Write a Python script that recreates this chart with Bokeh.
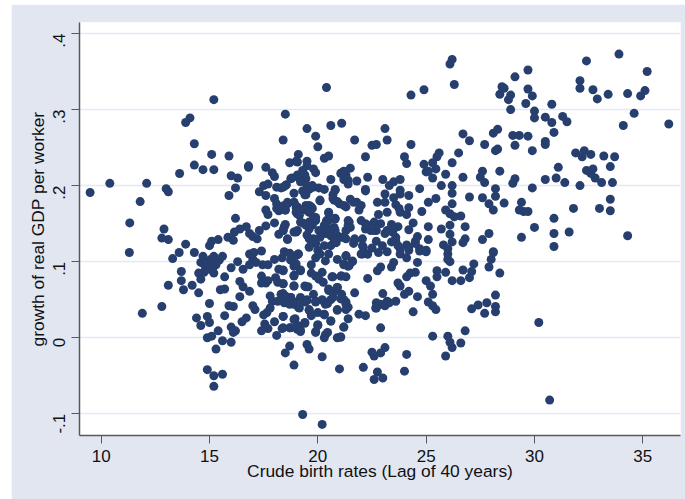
from math import pi
from bokeh.plotting import figure
from bokeh.models import FixedTicker, Range1d, ColumnDataSource
from bokeh.embed import file_html
from bokeh.resources import INLINE

x_upper_left = [9.49,10.4,11.32,11.8,12.1,13.0,13.1,13.62,13.9,14.1,
 14.3,14.3,14.7,15.2,15.1,15.2,15.9,16.0,16.3,16.2,
 15.9,16.8,16.8,17.6,17.9,18.0,18.5,18.4,19.5,19.9,
 20.0,20.4,20.6,21.1,20.3,20.5,19.1,19.0,18.7,19.5,
 19.5,19.8,19.9,18.8,19.1,19.3,19.45,19.3,20.6,21.1,
 21.2,17.5,17.7,17.3,17.6,18.1,18.3,18.55,18.9,19.3,
 19.4,19.6,19.8,20.05,20.3,20.1,20.8,20.7,20.75,21.0]
y_upper_left = [.191,.203,.151,.179,.203,.196,.192,.216,.283,.289,
 .255,.227,.221,.313,.241,.221,.239,.213,.210,.197,
 .187,.224,.226,.224,.217,.212,.294,.260,.275,.265,
 .251,.329,.279,.282,.236,.239,.241,.232,.230,.232,
 .226,.222,.217,.210,.211,.216,.209,.209,.208,.217,
 .208,.200,.202,.192,.187,.198,.197,.201,.190,.193,
 .188,.195,.198,.197,.195,.180,.194,.188,.181,.176]

x_mid_left = [18.0,18.1,18.1,18.2,18.6,18.5,18.9,19.0,19.05,19.45,
 19.6,19.75,17.6,17.7,16.2,20.5,20.8,18.0,17.6,17.3,
 18.5,18.4,18.2,19.0,18.6,19.3,19.6,19.75,19.9,20.05,
 20.4,16.4,16.7,16.85,16.15,15.85,16.1,15.4,15.1,15.0,
 17.2,17.0,12.9,12.8,13.1,13.9,11.3,13.3,13.6,14.3,
 18.45,18.6,18.9,19.06,19.0,19.45,19.7,19.6,19.2,19.15,
 18.5,20.5,20.5,20.8,19.8,19.6,19.9,19.2,19.45,19.75,
 19.6,21.45,21.4,21.3,20.3,20.2,20.5,20.75,20.35,20.6,
 20.1,20.9,20.8,18.45,18.4,18.9,19.06,18.6,19.5,19.6,
 19.8,19.9,19.6,20.3,20.6,20.75,21.1,21.3,20.85,20.0,
 20.7,20.9,21.2,19.06,18.75,19.3,19.4,20.1,20.8,19.06,
 19.75,19.5,18.5,18.4,19.45,19.4,19.2,21.3,22.2,21.06]
y_mid_left = [.183,.176,.170,.167,.176,.168,.178,.171,.163,.168,
 .174,.170,.168,.162,.157,.164,.156,.151,.147,.141,
 .149,.141,.136,.139,.129,.151,.146,.154,.158,.141,
 .154,.143,.146,.137,.139,.132,.128,.129,.127,.121,
 .130,.133,.143,.131,.129,.123,.112,.104,.112,.112,
 .174,.178,.178,.172,.165,.174,.172,.165,.168,.161,
 .168,.165,.154,.157,.159,.152,.154,.152,.148,.148,
 .143,.152,.148,.141,.148,.141,.143,.145,.137,.134,
 .132,.134,.141,.146,.141,.139,.141,.130,.135,.130,
 .130,.124,.119,.121,.121,.126,.132,.130,.125,.115,
 .183,.179,.174,.214,.209,.220,.214,.181,.195,.231,
 .200,.200,.200,.198,.188,.193,.205,.214,.195,.216]

x_low_left = [14.7,14.6,14.8,15.05,15.2,15.3,15.6,15.2,15.0,15.45,
 14.75,14.9,15.15,16.0,16.3,16.55,16.85,17.0,17.15,16.85,
 17.05,17.4,17.45,17.7,18.0,18.2,18.4,18.35,18.75,18.9,
 18.9,19.2,19.1,19.7,19.9,20.1,20.35,20.5,20.9,21.2,
 19.7,19.9,20.2,20.05,20.25,20.65,21.1,17.4,17.4,17.6,
 17.7,18.05,18.15,18.4,18.9,19.45,19.55,19.8,19.9,17.8,
 17.9,18.3,18.5,18.75,18.15,18.45,18.7,18.9,19.15,19.2,
 19.5,19.35,17.8,17.65,17.5,17.0,17.1,19.6,19.7,20.0,
 20.3,20.2,20.35,20.6,20.5,20.75,20.9,20.9,20.6,18.4,
 18.0,17.55,17.7,17.4,18.35,18.1,18.7,18.95,19.05,19.2,
 19.4,19.9,20.0,20.35,20.3,20.45,20.9,21.05,21.2,19.5,
 19.6,18.7,18.5,18.9,20.2,21.0,19.3,20.2]
y_low_left = [.107,.099,.094,.103,.107,.096,.107,.085,.090,.102,
 .086,.099,.092,.092,.100,.090,.096,.103,.099,.110,
 .112,.114,.096,.096,.103,.090,.088,.105,.103,.094,
 .081,.088,.110,.096,.105,.110,.101,.110,.103,.096,
 .085,.081,.086,.077,.073,.080,.081,.081,.072,.072,
 .075,.079,.073,.071,.068,.067,.067,.057,.048,.055,
 .048,.057,.055,.053,.048,.046,.044,.044,.039,.053,
 .050,.048,.039,.033,.030,.042,.037,.037,.030,.033,
 .031,.050,.044,.050,.064,.061,.066,.036,.022,.028,
 .021,.018,.012,.009,.012,.003,.013,.025,.011,.010,
 .020,.008,.016,.004,0,.007,0,.001,.014,-.009,
 -.015,-.011,-.020,-.036,-.025,-.041,-.101,-.114]

x_outer_left = [13.7,13.7,13.1,13.8,14.2,14.5,12.8,11.9,15.0,14.4,
 14.6,14.9,15.0,14.9,15.1,15.4,15.6,15.3,16.0,14.9,
 15.2,15.6,15.2,15.7,16.0,16.2,16.1,16.5,16.7,15.9,
 16.1,16.4,15.5,15.7,16.85,16.55,16.4,15.7,14.6,14.5]
y_outer_left = [.087,.075,.069,.063,.069,.059,.041,.032,.045,.026,
 .016,.028,.020,0,.002,.009,-.004,-.015,-.006,-.042,
 -.050,-.048,-.064,.029,.014,.009,.007,.021,.026,.042,
 .041,.054,.063,.064,.061,.067,.074,.080,.077,.085]

x_dense_low = [18.45,18.7,19.0,18.75,19.0,19.2,18.9,18.4,18.4,18.9,
 19.4,19.1,19.9,20.3,20.5,20.7,20.9,20.7,21.06,21.3,
 21.4,20.9,20.45,18.4,18.5,18.75,18.7,18.9,19.1,19.2,
 19.5,19.4,19.6,19.7,20.3,20.6,
 18.4,18.9,19.4,19.06,18.75,18.4,19.2,20.0,19.9,21.7,
 21.3,21.2,21.45,21.6,22.0,22.3,21.3,20.7,21.2,21.3,21.1,21.3]
y_dense_low = [.113,.111,.108,.102,.097,.089,.082,.089,.071,.068,
 .068,.110,.047,.047,.062,.060,.066,.053,.051,.047,
 .040,.037,.045,.058,.053,.053,.047,.047,.040,.051,
 .049,.047,.036,.029,.030,.022,
 .028,.024,.019,.016,.013,.013,.008,.017,.007,.059,
 .108,.097,.095,.101,.110,.110,.080,.080,.050,.044,.057,.037]

x_right = [23.1,21.7,23.2,22.5,22.7,24.3,22.2,24.0,24.1,25.6,
 25.5,25.3,24.9,25.45,25.0,25.1,25.3,26.2,26.5,25.9,
 26.7,25.7,26.2,26.2,24.7,24.2,23.8,23.8,23.5,23.8,
 23.5,23.3,23.0,23.1,22.75,23.1,22.3,21.8,22.2,21.5,
 21.2,21.4,21.4,21.5,21.65,21.8,22.0,21.9,21.3,23.6,
 23.75,23.8,23.2,22.8,24.2,24.1,24.8,25.1,25.45,26.2,
 25.9,26.1,26.3,26.6,27.0,27.6,27.9,28.1,28.2,28.2,
 28.6,27.5,27.6,27.7,28.4,29.1,29.0,29.9,26.7,27.0,
 27.7,28.1,28.3,28.2,28.3,29.0,29.3,29.7,29.1,29.9,
 30.5,30.5,30.9,24.3,24.9,26.2,26.1,26.3,29.1,29.7,
 28.5,28.6,28.4,28.9,28.8,29.7,29.9,29.6,28.9,30.8,
 30.0,30.0,30.5,30.8,31.3,31.5,32.4,33.9,35.2,32.1,
 32.1,32.7,32.9,33.4,34.3,34.9,35.1,34.6,34.1,36.2,
 31.9,32.3,32.2,32.6,33.2,33.7,33.5,31.1,31.0,30.5,
 31.4,32.1,32.4,32.7,32.6,32.8,33.1,33.6,33.5,33.0,
 33.5,31.8,30.9,30.0,30.9,30.9,31.6,29.4,34.3,29.4,
 29.3,29.5,29.7,27.9,27.6,28.1,26.8,26.8,26.7,26.1,
 26.1,26.2,25.8,26.0,25.7,25.1,25.1,24.4,24.2,24.6,
 24.5,24.1,23.6,23.7,23.4,23.45,23.1,22.7,22.9,22.6,
 22.6,22.2,22.0,22.2,21.4,21.5,21.2,21.7,22.1,22.5,
 22.98,23.8,24.2,24.7,25.0,23.5,23.2,23.6,23.4,23.7,
 22.06,22.06,22.3,21.7,21.65,24.5,22.7,22.44]
y_right = [.275,.260,.260,.253,.254,.254,.238,.238,.229,.243,
 .238,.230,.228,.222,.218,.219,.210,.230,.243,.215,
 .211,.200,.200,.190,.196,.187,.194,.189,.184,.208,
 .205,.200,.208,.189,.178,.178,.211,.206,.193,.223,
 .219,.207,.202,.182,.178,.178,.174,.168,.172,.175,
 .170,.165,.165,.162,.171,.162,.166,.178,.183,.176,
 .168,.163,.159,.160,.185,.184,.176,.168,.196,.186,
 .177,.211,.219,.204,.219,.209,.203,.197,.268,.259,
 .254,.269,.274,.246,.248,.266,.266,.265,.253,.246,
 .258,.254,.270,.319,.326,.366,.360,.333,.343,.352,
 .330,.328,.320,.319,.313,.327,.318,.308,.300,.307,
 .298,.289,.290,.283,.291,.284,.364,.373,.350,.338,
 .328,.326,.314,.320,.321,.318,.325,.295,.279,.281,
 .243,.246,.238,.241,.239,.238,.225,.224,.210,.208,
 .204,.200,.220,.222,.216,.210,.204,.204,.182,.170,
 .167,.170,.157,.145,.137,.120,.139,.132,.134,.178,
 .168,.166,.166,.137,.129,.113,.146,.130,.125,.148,
 .136,.126,.122,.117,.143,.146,.129,.151,.142,.133,
 .127,.122,.127,.146,.149,.139,.137,.127,.150,.152,
 .141,.150,.154,.143,.154,.145,.132,.128,.119,.118,
 .121,.117,.119,.117,.115,.143,.141,.132,.126,.121,
 .130,.121,.148,.130,.124,.124,.141,.141]

x_low_right = [21.3,21.6,21.4,22.06,22.3,22.8,23.2,23.8,24.1,24.2,
 24.7,25.0,26.0,26.1,26.0,24.6,23.5,23.4,22.9,22.75,
 22.3,21.06,24.5,24.26,24.1,23.7,23.8,25.0,25.2,25.5,
 25.5,25.9,26.2,26.6,26.7,27.1,27.0,27.2,27.9,28.0,
 28.1,28.4,28.2,27.8,27.4,27.1,27.7,28.2,28.2,25.3,
 24.6,24.2,24.0,23.0,23.6,23.3,23.1,23.2,22.7,22.7,
 22.9,25.1,25.3,25.45,24.4,22.67,21.9,22.2,21.4,21.2,
 22.9,21.06,25.3,26.0,26.1,26.2,26.6,26.8,25.9,23.1,
 22.9,22.6,22.5,24.1,22.1,22.75,23.0,22.6,24.0,30.2,30.7]
y_low_right = [.107,.100,.094,.110,.110,.112,.113,.110,.105,.115,
 .114,.113,.110,.100,.103,.099,.099,.093,.093,.088,
 .078,.081,.086,.085,.080,.072,.068,.075,.068,.088,
 .080,.086,.075,.075,.089,.087,.079,.097,.093,.103,
 .112,.085,.056,.046,.043,.038,.032,.041,.034,.057,
 .054,.061,.057,.058,.048,.046,.042,.048,.046,.039,
 .044,.047,.042,.037,.034,.039,.031,.029,.025,.014,
 .013,.001,.002,.002,-.006,-.013,-.007,.009,-.024,-.013,
 -.020,-.024,-.019,-.022,-.039,-.045,-.053,-.055,-.044,.020,-.082]

birth_rate = x_upper_left + x_mid_left + x_low_left + x_outer_left + x_dense_low + x_right + x_low_right
growth = y_upper_left + y_mid_left + y_low_left + y_outer_left + y_dense_low + y_right + y_low_right

x_ticks = [10, 15, 20, 25, 30, 35]
y_ticks = [-0.1, 0, 0.1, 0.2, 0.3, 0.4]
y_tick_labels = {-0.1: "-.1", 0: "0", 0.1: ".1", 0.2: ".2", 0.3: ".3", 0.4: ".4"}
x_title = "Crude birth rates (Lag of 40 years)"
y_title = "growth of real GDP per worker"

BG = "#E1E6F1"
NAVY = "#263F6E"
FONT = "Liberation Sans"

p = figure(width=674, height=495, output_backend="svg", toolbar_location=None,
           x_range=Range1d(9.0, 36.74), y_range=Range1d(-0.1286, 0.4145),
           background_fill_color="white", border_fill_color=BG,
           min_border_left=68, min_border_right=5, min_border_top=18, min_border_bottom=64,
           margin=(4, 0, 0, 11))
p.outline_line_color = None
p.xgrid.visible = False
p.ygrid.ticker = FixedTicker(ticks=y_ticks)
p.ygrid.grid_line_color = "#E3E8F2"
p.ygrid.grid_line_width = 1.5

p.xaxis.ticker = FixedTicker(ticks=x_ticks)
p.yaxis.ticker = FixedTicker(ticks=y_ticks)
p.yaxis.major_label_overrides = y_tick_labels
p.yaxis.major_label_orientation = pi / 2
p.xaxis.axis_label = x_title
p.yaxis.axis_label = y_title

for ax in (p.xaxis, p.yaxis):
    ax.axis_line_color = "#595959"
    ax.axis_line_width = 1.5
    ax.major_tick_line_color = "#595959"
    ax.major_tick_line_width = 1
    ax.major_tick_in = 0
    ax.major_tick_out = 8
    ax.minor_tick_line_color = None
    ax.major_label_text_font = FONT
    ax.major_label_text_font_size = "17px"
    ax.major_label_text_color = "#111111"
    ax.axis_label_text_font = FONT
    ax.axis_label_text_font_style = "normal"
    ax.axis_label_text_font_size = "17.4px"
    ax.axis_label_text_color = "#111111"

p.xaxis.major_label_standoff = 6
p.xaxis.axis_label_standoff = -4
p.yaxis.major_label_standoff = 12
p.yaxis.axis_label_standoff = -3

source = ColumnDataSource(data=dict(x=birth_rate, y=growth))
p.scatter("x", "y", source=source, size=9, fill_color=NAVY, line_color=None)

open("out.html", "w").write(file_html(p, INLINE))
